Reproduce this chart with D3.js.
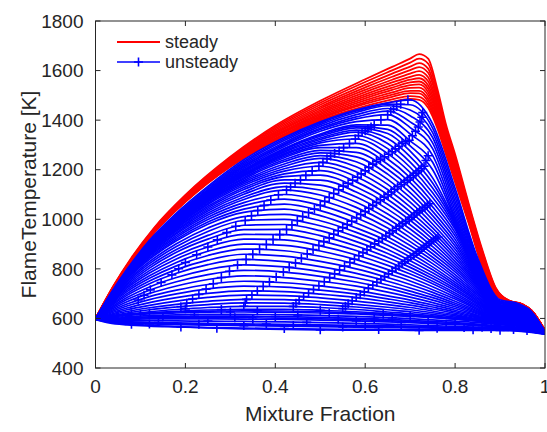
<!DOCTYPE html>
<html>
<head>
<meta charset="utf-8">
<script src="https://cdn.jsdelivr.net/npm/d3@7"></script>
<style>
  body { margin: 0; background: #fff; }
  svg { display: block; }
  text { font-family: Arial, "Liberation Sans", Helvetica, sans-serif; fill: #262626; }
</style>
</head>
<body>
<svg id="chart" width="547" height="432"></svg>
<script>
// ---- axis ticks ----
const xTicks = [0, 0.2, 0.4, 0.6, 0.8, 1];
const xTickLabels = ["0", "0.2", "0.4", "0.6", "0.8", "1"];
const yTicks = [400, 600, 800, 1000, 1200, 1400, 1600, 1800];
const xLabel = "Mixture Fraction";
const yLabel = "FlameTemperature [K]";
const legendLabels = ["steady", "unsteady"];

// ---- steady flamelets: temperature [K] on the mixture-fraction grid ----
const steadyZ = [0, 0.04, 0.08, 0.13, 0.2, 0.3, 0.4, 0.5, 0.6, 0.66, 0.7, 0.72, 0.74, 0.76, 0.78, 0.8, 0.83, 0.86, 0.89, 0.92, 0.95, 0.97, 1.0];
const steadyT = [
  [600, 732, 845, 965, 1098, 1252, 1378, 1478, 1565, 1615, 1648, 1666, 1648, 1530, 1380, 1262, 1065, 880, 725, 672, 657, 632, 551],
  [600, 730, 842, 962, 1095, 1248, 1372, 1470, 1554, 1601, 1632, 1648, 1628, 1514, 1368, 1251, 1057, 873, 722, 672, 657, 632, 551],
  [599, 729, 840, 959, 1092, 1244, 1366, 1462, 1542, 1588, 1616, 1630, 1608, 1498, 1356, 1240, 1049, 866, 719, 671, 657, 632, 551],
  [599, 728, 838, 956, 1089, 1240, 1360, 1454, 1532, 1575, 1602, 1614, 1591, 1484, 1345, 1230, 1042, 860, 716, 671, 656, 631, 551],
  [599, 727, 837, 954, 1086, 1237, 1354, 1447, 1522, 1563, 1588, 1598, 1573, 1469, 1334, 1219, 1035, 853, 714, 670, 656, 631, 551],
  [599, 726, 835, 952, 1083, 1234, 1349, 1440, 1513, 1552, 1575, 1583, 1557, 1456, 1325, 1210, 1028, 848, 711, 670, 656, 631, 551],
  [599, 725, 834, 950, 1081, 1230, 1345, 1434, 1504, 1541, 1563, 1569, 1541, 1444, 1315, 1202, 1022, 842, 709, 670, 656, 631, 550],
  [599, 724, 833, 949, 1079, 1228, 1340, 1428, 1496, 1531, 1552, 1556, 1527, 1432, 1307, 1194, 1016, 837, 707, 670, 656, 631, 550],
  [599, 723, 832, 948, 1077, 1225, 1336, 1422, 1488, 1522, 1541, 1544, 1513, 1421, 1298, 1186, 1011, 832, 705, 669, 656, 631, 550],
  [598, 723, 831, 948, 1075, 1222, 1332, 1416, 1480, 1512, 1530, 1531, 1500, 1410, 1290, 1178, 1005, 828, 703, 669, 655, 630, 550],
  [598, 722, 831, 947, 1073, 1219, 1327, 1411, 1472, 1503, 1518, 1518, 1486, 1399, 1282, 1170, 999, 823, 700, 669, 655, 630, 550],
  [598, 722, 831, 946, 1072, 1217, 1323, 1406, 1466, 1494, 1509, 1508, 1474, 1389, 1274, 1163, 995, 818, 699, 668, 655, 630, 550],
  [598, 722, 830, 946, 1071, 1214, 1320, 1401, 1457, 1484, 1497, 1494, 1462, 1380, 1267, 1157, 990, 814, 697, 668, 655, 630, 550],
  [598, 722, 830, 945, 1070, 1212, 1316, 1396, 1448, 1474, 1486, 1482, 1450, 1370, 1260, 1150, 985, 810, 695, 668, 655, 630, 550]
];

// ---- unsteady flamelet snapshots: temperature [K] on the mixture-fraction grid ----
const unsteadyZ = [0, 0.03, 0.07, 0.12, 0.18, 0.25, 0.33, 0.42, 0.5, 0.58, 0.65, 0.7, 0.75, 0.8, 0.85, 0.9, 0.94, 0.97, 1.0];
const unsteadyT = [
  [598, 690, 798, 915, 1025, 1133, 1240, 1330, 1393, 1442, 1470, 1482, 1385, 1125, 845, 675, 660, 628, 545],
  [598, 688, 794, 909, 1019, 1127, 1233, 1324, 1388, 1437, 1465, 1462, 1368, 1108, 838, 670, 655, 625, 545],
  [598, 687, 791, 904, 1014, 1121, 1227, 1318, 1382, 1431, 1458, 1441, 1350, 1090, 831, 668, 653, 624, 545],
  [598, 686, 789, 900, 1010, 1116, 1221, 1310, 1375, 1422, 1447, 1418, 1330, 1072, 824, 665, 650, 622, 545],
  [598, 685, 787, 897, 1007, 1112, 1215, 1304, 1367, 1413, 1436, 1393, 1308, 1055, 817, 662, 648, 620, 545],
  [598, 684, 786, 895, 1005, 1109, 1212, 1300, 1362, 1405, 1422, 1370, 1285, 1038, 810, 660, 646, 618, 545],
  [598, 684, 785, 894, 1003, 1106, 1206, 1294, 1355, 1394, 1402, 1344, 1258, 1022, 804, 656, 643, 616, 545],
  [598, 683, 784, 892, 1001, 1102, 1200, 1286, 1344, 1381, 1380, 1316, 1230, 1008, 798, 652, 640, 614, 545],
  [598, 683, 783, 891, 1000, 1100, 1198, 1284, 1340, 1375, 1363, 1296, 1200, 1000, 795, 651, 639, 613, 545],
  [598, 683, 783, 891, 999, 1099, 1196, 1282, 1335, 1369, 1346, 1275, 1167, 992, 792, 650, 638, 612, 545],
  [598, 683, 784, 891, 998, 1097, 1193, 1276, 1328, 1360, 1326, 1253, 1146, 985, 789, 648, 636, 611, 545],
  [598, 684, 785, 892, 998, 1096, 1191, 1271, 1322, 1352, 1306, 1231, 1126, 978, 786, 646, 634, 610, 545],
  [598, 684, 784, 891, 996, 1093, 1186, 1265, 1315, 1338, 1285, 1210, 1107, 969, 782, 644, 632, 608, 544],
  [598, 684, 784, 890, 994, 1091, 1182, 1260, 1308, 1324, 1265, 1189, 1088, 960, 778, 642, 630, 607, 544],
  [598, 684, 784, 888, 992, 1088, 1178, 1254, 1298, 1306, 1243, 1168, 1069, 946, 774, 640, 628, 605, 544],
  [598, 684, 784, 887, 990, 1086, 1174, 1248, 1289, 1289, 1222, 1148, 1050, 933, 770, 638, 626, 604, 544],
  [598, 683, 783, 885, 987, 1082, 1168, 1240, 1278, 1270, 1202, 1128, 1032, 919, 765, 636, 624, 602, 544],
  [598, 683, 783, 884, 985, 1079, 1163, 1233, 1268, 1252, 1182, 1108, 1015, 905, 761, 634, 622, 601, 544],
  [598, 682, 782, 882, 981, 1075, 1156, 1223, 1257, 1232, 1161, 1088, 998, 892, 756, 632, 620, 600, 543],
  [598, 682, 781, 881, 978, 1071, 1150, 1214, 1246, 1212, 1141, 1069, 981, 879, 752, 630, 618, 598, 543],
  [598, 681, 780, 878, 974, 1065, 1143, 1204, 1230, 1192, 1120, 1050, 965, 866, 747, 628, 616, 596, 543],
  [598, 681, 779, 876, 971, 1060, 1136, 1194, 1214, 1172, 1100, 1031, 950, 854, 742, 626, 614, 595, 543],
  [598, 680, 777, 873, 966, 1053, 1128, 1183, 1196, 1151, 1080, 1013, 935, 842, 737, 624, 612, 593, 543],
  [598, 680, 776, 871, 962, 1046, 1120, 1172, 1178, 1130, 1061, 996, 920, 830, 732, 622, 610, 592, 543],
  [598, 679, 774, 868, 957, 1040, 1110, 1159, 1158, 1110, 1041, 978, 905, 819, 726, 620, 608, 590, 542],
  [598, 679, 772, 865, 952, 1033, 1101, 1146, 1138, 1090, 1021, 961, 890, 808, 720, 618, 606, 589, 542],
  [598, 678, 770, 861, 946, 1025, 1090, 1132, 1118, 1069, 1002, 943, 875, 798, 713, 616, 604, 587, 542],
  [598, 677, 768, 858, 941, 1017, 1080, 1118, 1098, 1048, 984, 926, 861, 788, 706, 614, 603, 586, 542],
  [598, 676, 765, 854, 934, 1008, 1067, 1100, 1077, 1027, 965, 910, 847, 777, 699, 612, 601, 585, 542],
  [598, 675, 763, 850, 927, 999, 1055, 1081, 1056, 1006, 947, 894, 834, 766, 692, 610, 600, 584, 542],
  [598, 674, 760, 844, 920, 989, 1041, 1061, 1035, 985, 929, 878, 821, 756, 685, 608, 598, 582, 542],
  [598, 673, 757, 838, 913, 980, 1028, 1041, 1015, 965, 912, 863, 808, 746, 679, 606, 597, 581, 542],
  [598, 670, 751, 829, 901, 965, 1011, 1020, 994, 947, 895, 848, 796, 737, 673, 604, 595, 579, 542],
  [598, 668, 746, 821, 890, 951, 995, 1000, 974, 929, 878, 833, 784, 729, 668, 602, 594, 578, 542],
  [598, 665, 740, 812, 878, 935, 976, 979, 954, 910, 862, 819, 772, 720, 662, 600, 592, 576, 541],
  [598, 663, 734, 803, 867, 920, 958, 959, 934, 892, 846, 806, 761, 712, 657, 598, 591, 575, 541],
  [598, 660, 728, 793, 853, 904, 939, 938, 913, 874, 830, 792, 750, 703, 651, 596, 589, 573, 541],
  [598, 657, 722, 783, 840, 888, 920, 917, 893, 856, 814, 779, 740, 695, 646, 594, 588, 572, 541],
  [598, 654, 715, 772, 826, 871, 900, 895, 872, 837, 797, 765, 728, 686, 640, 592, 586, 571, 541],
  [598, 651, 708, 762, 812, 854, 880, 873, 851, 819, 781, 751, 716, 678, 635, 590, 585, 570, 541],
  [598, 647, 700, 751, 797, 835, 859, 851, 830, 800, 765, 737, 705, 669, 630, 589, 584, 569, 541],
  [598, 644, 693, 740, 782, 817, 838, 829, 809, 782, 750, 723, 694, 661, 626, 588, 583, 568, 541],
  [598, 639, 684, 727, 765, 797, 816, 808, 789, 764, 735, 710, 684, 654, 622, 587, 582, 567, 540],
  [598, 635, 676, 714, 748, 777, 794, 787, 770, 747, 721, 698, 674, 647, 618, 586, 581, 566, 540],
  [598, 631, 667, 701, 731, 757, 772, 765, 750, 730, 706, 686, 664, 640, 613, 585, 580, 565, 540],
  [598, 627, 658, 688, 714, 737, 750, 744, 731, 712, 691, 674, 654, 633, 609, 584, 579, 564, 540],
  [598, 623, 650, 676, 699, 719, 730, 726, 714, 698, 679, 664, 646, 627, 605, 583, 578, 563, 540],
  [598, 619, 642, 664, 684, 701, 711, 708, 698, 684, 667, 654, 638, 621, 602, 582, 577, 562, 540],
  [598, 615, 635, 653, 670, 685, 694, 692, 683, 670, 656, 644, 630, 615, 598, 581, 576, 561, 540],
  [598, 612, 628, 643, 657, 669, 677, 676, 668, 657, 645, 635, 623, 610, 595, 580, 575, 560, 540],
  [598, 609, 622, 635, 646, 656, 663, 662, 656, 646, 635, 627, 616, 605, 592, 579, 574, 559, 539],
  [598, 607, 617, 627, 636, 644, 649, 649, 644, 636, 626, 619, 610, 600, 590, 578, 573, 558, 539],
  [599, 606, 614, 622, 629, 634, 637, 637, 633, 627, 619, 613, 606, 598, 590, 579, 572, 558, 539],
  [598, 608, 615, 621, 626, 629, 631, 630, 627, 622, 616, 611, 605, 598, 590, 580, 572, 558, 540],
  [600, 606, 612, 618, 622, 625, 626, 625, 622, 618, 612, 608, 603, 597, 590, 580, 572, 558, 540],
  [599, 603, 607, 611, 614, 616, 616, 615, 612, 608, 603, 599, 594, 589, 583, 575, 568, 556, 540],
  [598, 600, 603, 606, 608, 609, 609, 607, 604, 600, 596, 592, 588, 583, 577, 570, 565, 555, 540],
  [597, 597, 600, 602, 603, 603, 603, 601, 598, 595, 591, 587, 583, 579, 574, 568, 563, 553, 539],
  [597, 597, 597, 598, 598, 598, 597, 596, 593, 590, 586, 583, 579, 575, 571, 566, 561, 552, 539],
  [597, 594, 592, 591, 590, 589, 588, 586, 583, 580, 577, 574, 571, 568, 565, 562, 558, 550, 539],
  [596, 591, 587, 584, 582, 580, 578, 576, 574, 572, 570, 568, 566, 564, 562, 560, 556, 548, 538],
  [596, 590, 584, 581, 578, 576, 574, 572, 570, 568, 566, 565, 563, 562, 560, 558, 555, 547, 538],
  [596, 588, 582, 578, 575, 573, 571, 569, 567, 565, 563, 562, 561, 560, 559, 557, 554, 547, 538],
  [595, 582, 574, 569, 566, 563, 561, 559, 557, 556, 555, 555, 554, 554, 554, 553, 550, 545, 537],
  [596, 585, 578, 572, 567, 562, 558, 556, 554, 553, 553, 552, 552, 552, 552, 552, 549, 544, 537]
];

// mixture fraction of the '+' markers on each unsteady snapshot
const unsteadyMarkZ = [
  [0.695],
  [0.679, 0.728],
  [0.67, 0.726],
  [0.663, 0.722],
  [0.657, 0.718],
  [0.65, 0.712],
  [0.635, 0.705],
  [0.62, 0.698, 0.74],
  [0.613, 0.69, 0.735],
  [0.606, 0.682, 0.731],
  [0.6, 0.675, 0.725],
  [0.593, 0.667, 0.719],
  [0.585, 0.66, 0.713],
  [0.578, 0.652, 0.707],
  [0.565, 0.643, 0.7],
  [0.552, 0.634, 0.694, 0.744],
  [0.542, 0.625, 0.687, 0.738],
  [0.532, 0.617, 0.68, 0.733],
  [0.523, 0.608, 0.672, 0.727],
  [0.515, 0.6, 0.665, 0.721],
  [0.506, 0.591, 0.658, 0.715],
  [0.497, 0.583, 0.651, 0.709, 0.762],
  [0.482, 0.572, 0.642, 0.703, 0.757],
  [0.468, 0.562, 0.634, 0.698, 0.752],
  [0.456, 0.551, 0.625, 0.69, 0.747],
  [0.444, 0.541, 0.617, 0.683, 0.742],
  [0.434, 0.53, 0.608, 0.676, 0.736],
  [0.425, 0.52, 0.6, 0.669, 0.731],
  [0.407, 0.51, 0.59, 0.661, 0.725],
  [0.39, 0.5, 0.581, 0.654, 0.72],
  [0.375, 0.487, 0.57, 0.646, 0.714],
  [0.361, 0.474, 0.56, 0.638, 0.708],
  [0.347, 0.461, 0.55, 0.63, 0.701],
  [0.333, 0.449, 0.54, 0.621, 0.695],
  [0.312, 0.437, 0.53, 0.612, 0.688],
  [0.292, 0.425, 0.52, 0.604, 0.682],
  [0.271, 0.41, 0.508, 0.595, 0.675],
  [0.25, 0.395, 0.497, 0.586, 0.668],
  [0.225, 0.38, 0.484, 0.576, 0.66],
  [0.2, 0.365, 0.471, 0.566, 0.652],
  [0.185, 0.35, 0.458, 0.554, 0.643],
  [0.17, 0.335, 0.445, 0.543, 0.635],
  [0.146, 0.316, 0.431, 0.532, 0.626],
  [0.122, 0.298, 0.418, 0.521, 0.617],
  [0.108, 0.28, 0.402, 0.509, 0.607],
  [0.095, 0.262, 0.387, 0.497, 0.598],
  [0.246, 0.373, 0.485, 0.589],
  [0.23, 0.36, 0.474, 0.58],
  [0.216, 0.348, 0.463, 0.571],
  [0.203, 0.336, 0.453, 0.562],
  [0.19, 0.333, 0.446, 0.556],
  [0.08, 0.2, 0.33, 0.44, 0.55],
  [0.12, 0.28, 0.5],
  [0.05, 0.36, 0.64],
  [0.1, 0.3, 0.52, 0.7],
  [0.22, 0.45, 0.66],
  [0.15, 0.4, 0.62, 0.8],
  [0.31, 0.54, 0.74],
  [0.35, 0.58, 0.78],
  [0.06, 0.25, 0.47, 0.68, 0.86],
  [0.14, 0.38, 0.6, 0.82, 0.96],
  [0.23, 0.44, 0.88],
  [0.12, 0.33, 0.55, 0.76, 0.93],
  [0.19, 0.42, 0.63, 0.84],
  [0.08, 0.27, 0.5, 0.72, 0.9]
];

// ---- layout ----
const plot = { left: 95.5, right: 545, top: 21, bottom: 368 };
const axisColor = "#262626";
const steadyColor = "#ff0000";
const unsteadyColor = "#0000ff";
const tickLen = 5;
const markArm = 4.5;

const svg = d3.select("#chart");
const x = d3.scaleLinear().domain([0, 1]).range([plot.left, plot.right]);
const y = d3.scaleLinear().domain([400, 1800]).range([plot.bottom, plot.top]);

svg.append("rect").attr("width", 547).attr("height", 432).attr("fill", "#fff");

svg.append("defs").append("clipPath").attr("id", "plotClip")
  .append("rect")
  .attr("x", plot.left).attr("y", plot.top)
  .attr("width", plot.right - plot.left).attr("height", plot.bottom - plot.top);

const data = svg.append("g").attr("clip-path", "url(#plotClip)");
const line = d3.line().curve(d3.curveMonotoneX);

// steady flamelets
steadyT.forEach(ts => {
  data.append("path")
    .attr("d", line(ts.map((t, i) => [x(steadyZ[i]), y(t)])))
    .attr("fill", "none")
    .attr("stroke", steadyColor)
    .attr("stroke-width", 1.8)
    .attr("stroke-linejoin", "round");
});

// unsteady snapshots with '+' markers sitting on each drawn line
function pointAtX(node, px) {
  let lo = 0, hi = node.getTotalLength();
  for (let it = 0; it < 30; it++) {
    const mid = (lo + hi) / 2;
    if (node.getPointAtLength(mid).x < px) lo = mid; else hi = mid;
  }
  return node.getPointAtLength((lo + hi) / 2);
}

unsteadyT.forEach((ts, k) => {
  const p = data.append("path")
    .attr("d", line(ts.map((t, i) => [x(unsteadyZ[i]), y(t)])))
    .attr("fill", "none")
    .attr("stroke", unsteadyColor)
    .attr("stroke-width", 1.7)
    .attr("stroke-linejoin", "round");
  const node = p.node();
  (unsteadyMarkZ[k] || []).forEach(z => {
    const pt = pointAtX(node, x(z));
    data.append("path")
      .attr("d", `M${pt.x - markArm},${pt.y}H${pt.x + markArm}M${pt.x},${pt.y - markArm}V${pt.y + markArm}`)
      .attr("stroke", unsteadyColor)
      .attr("stroke-width", 1.6)
      .attr("fill", "none");
  });
});

// ---- axes box and ticks ----
const axes = svg.append("g").attr("stroke", axisColor).attr("stroke-width", 1).attr("fill", "none");
axes.append("rect")
  .attr("x", plot.left).attr("y", plot.top)
  .attr("width", plot.right - plot.left).attr("height", plot.bottom - plot.top);

xTicks.forEach(v => {
  const px = x(v);
  axes.append("line").attr("x1", px).attr("x2", px).attr("y1", plot.bottom).attr("y2", plot.bottom - tickLen);
  axes.append("line").attr("x1", px).attr("x2", px).attr("y1", plot.top).attr("y2", plot.top + tickLen);
});
yTicks.forEach(v => {
  const py = y(v);
  axes.append("line").attr("x1", plot.left).attr("x2", plot.left + tickLen).attr("y1", py).attr("y2", py);
  axes.append("line").attr("x1", plot.right).attr("x2", plot.right - tickLen).attr("y1", py).attr("y2", py);
});

// tick labels
svg.append("g").selectAll("text").data(xTicks).join("text")
  .attr("x", d => x(d)).attr("y", plot.bottom + 25)
  .attr("text-anchor", "middle").attr("font-size", 19)
  .text((d, i) => xTickLabels[i]);

svg.append("g").selectAll("text").data(yTicks).join("text")
  .attr("x", plot.left - 12).attr("y", d => y(d)).attr("dy", "0.35em")
  .attr("text-anchor", "end").attr("font-size", 19)
  .text(d => d);

// axis titles
svg.append("text")
  .attr("x", (plot.left + plot.right) / 2).attr("y", 421)
  .attr("text-anchor", "middle").attr("font-size", 21)
  .text(xLabel);

svg.append("text")
  .attr("transform", `translate(36,${(plot.top + plot.bottom) / 2}) rotate(-90)`)
  .attr("text-anchor", "middle").attr("font-size", 21)
  .text(yLabel);

// ---- legend ----
const legend = svg.append("g");
const legX0 = 117, legX1 = 160, legRow = [42, 62];
legend.append("line").attr("x1", legX0).attr("x2", legX1).attr("y1", legRow[0]).attr("y2", legRow[0])
  .attr("stroke", steadyColor).attr("stroke-width", 1.8);
legend.append("line").attr("x1", legX0).attr("x2", legX1).attr("y1", legRow[1]).attr("y2", legRow[1])
  .attr("stroke", unsteadyColor).attr("stroke-width", 1.6);
const legMid = (legX0 + legX1) / 2;
legend.append("path")
  .attr("d", `M${legMid - markArm},${legRow[1]}H${legMid + markArm}M${legMid},${legRow[1] - markArm}V${legRow[1] + markArm}`)
  .attr("stroke", unsteadyColor).attr("stroke-width", 1.6);
legendLabels.forEach((lab, i) => {
  legend.append("text")
    .attr("x", legX1 + 5).attr("y", legRow[i]).attr("dy", "0.35em")
    .attr("font-size", 18)
    .text(lab);
});
</script>
</body>
</html>
